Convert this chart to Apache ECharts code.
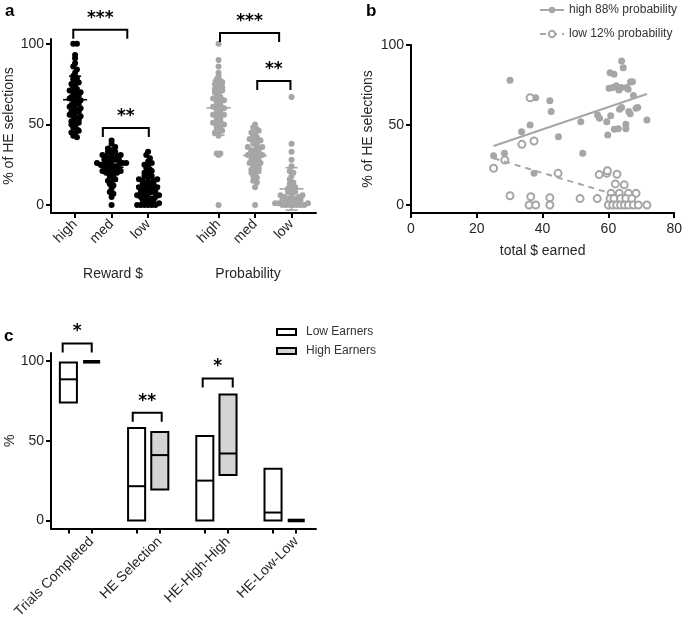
<!DOCTYPE html>
<html><head><meta charset="utf-8">
<script src="https://cdn.jsdelivr.net/npm/echarts@6/dist/echarts.min.js"></script>
<style>html,body{margin:0;padding:0;background:#fff}#c{width:685px;height:621px}</style>
</head><body><div id="c"></div>
<script>
// ---------- Panel a data ----------
const aTickLabels = ['high','med','low','high','med','low'];
const aGroupTitles = ['Reward $','Probability'];
const rewardHigh = [100,100,93,91,88,86,84,82,80,79,78,77,76,75,74,73,72,71,70,70,69,68,67,67,66,65,65,64,63,62,62,61,60,60,59,58,58,57,56,55,55,54,53,52,52,51,50,49,48,47,46,45,44,43,42];
const rewardMed = [40,38,36,35,34,33,33,32,31,31,30,30,29,29,28,28,28,27,27,26,26,26,25,25,25,24,24,24,23,23,22,22,21,21,20,20,19,19,18,17,16,15,14,13,12,10,8,7,5,0];
const rewardLow = [33,31,29,27,26,25,24,23,22,21,20,19,18,18,17,16,16,15,15,14,14,13,13,12,12,11,11,10,10,9,9,8,8,8,7,7,6,6,5,5,4,4,4,3,3,2,2,1,0,0,0,0,0,0];
const probHigh = [100,90,86,82,80,78,77,76,75,74,73,72,72,71,70,69,68,67,66,65,65,64,63,62,61,60,60,59,58,57,56,56,55,54,53,52,51,50,50,49,48,47,46,45,44,43,32,32,31,0];
const probMed = [50,48,47,46,45,44,43,42,41,40,40,39,38,37,36,36,35,34,34,33,33,32,31,31,30,30,29,28,28,27,26,26,25,24,23,22,22,21,20,19,18,17,15,14,11,0];
const probLow = [67,38,33,28,24,21,20,18,16,14,13,12,11,10,9,8,8,7,6,6,5,5,4,4,4,3,3,3,2,2,2,1,1,1,0,0,0,0,0,0,0];
const aSigLabels = ['***','**','***','**'];
const aSigX1 = [-0.05,0.76,3.97,4.99];
const aSigX2 = [1.43,2.02,5.59,5.9];
const aSigY = [108.7,47.8,106.8,77];

// ---------- Panel b data ----------
const bLegendNames = ['high 88% probability','low 12% probability'];
const highProbEarned = [25.1,28.4,30.1,33.6,36.2,37.4,37.9,42.2,42.6,44.8,51.6,52.2,56.7,57.3,59.5,59.8,60.5,61.7,60.7,64,64.5,60.2,61.4,62.4,63.2,63.9,65.5,66.7,67.3,66,67.6,61.8,63,65.3,65.3,63.4,64,66.2,66.6,68.4,68.9,71.7];
const highProbPct = [30.8,32.3,78,45.8,50,19.8,67,65.2,58.4,42.7,52.1,32.3,56.2,54.2,52,43.7,82.7,81.7,55.8,90,85.8,73,73.5,74.6,71.9,73.5,73.5,76.9,77,72.3,68.4,47.4,47.6,47.6,50.5,59.8,61,58.4,57,60.4,61,53.1];
const lowProbEarned = [25.1,28.5,30.1,33.7,36.2,36.4,35.9,37.9,37.4,42.2,42.2,44.7,51.4,56.6,57.2,59.5,59.7,62.6,62.1,64.8,60.8,63.3,66.1,68.4,60.5,61.7,63.7,65.3,67.1,60,61.3,62.5,63.7,64.9,66.1,67.6,69.1,71.7];
const lowProbPct = [23,28.1,5.8,37.9,67,5.2,0,0,40,4.6,0,19.8,4,4,19,19.8,21.4,19.2,13.2,12.6,7.3,7.3,7.3,7.3,4,4,4,4,4,0,0,0,0,0,0,0,0,0];
const highFitX = [25.1,71.7], highFitY = [36.9,69.4];
const lowFitX = [25.1,60], lowFitY = [29.2,7.7];

// ---------- Panel c data ----------
const cCategories = ['Trials Completed','HE Selection','HE-High-High','HE-Low-Low'];
const cLegendNames = ['Low Earners','High Earners'];
const lowMin = [74,0,0,0], lowMedian = [88.5,21.5,25,5], lowMax = [99,58,53,32.5];
const highMin = [99.5,19.5,28.5,0], highMedian = [99.5,41,42,0], highMax = [99.5,55.5,79,0];
const cSigLabels = ['*','**','*'];
const cSigX1 = [-0.254,0.773,1.799];
const cSigX2 = [0.172,1.198,2.239];
const cSigY = [111,67.6,89];

// ---------- layout / helpers ----------
const FONT = 'Liberation Sans, Arial, Helvetica, sans-serif';
const TXT = '#262626';
const GREY = '#a6a6a6';
const aPos = [0,1,2,3.93,4.93,5.93];
const cOff = 0.17;

function swarm(vals, center, bin, step){
  const s = vals.slice().sort((a,b)=>a-b);
  const bins = new Map();
  s.forEach(v=>{const k=Math.round(v/bin); if(!bins.has(k)) bins.set(k,[]); bins.get(k).push(v);});
  const out=[];
  bins.forEach(arr=>{const n=arr.length; arr.forEach((v,i)=>{
    const j = (i%2===0? 1:-1)*Math.ceil(i/2);
    const off = n%2===1 ? j : (i%2===0 ? (i/2+0.5) : -(Math.ceil(i/2)-0.5));
    out.push([center+off*step, v]);});});
  return out;
}
function meanSd(v){const m=v.reduce((a,b)=>a+b,0)/v.length; const s=Math.sqrt(v.reduce((a,b)=>a+(b-m)*(b-m),0)/(v.length-1)); return [m,s];}
const aGroups = [rewardHigh,rewardMed,rewardLow,probHigh,probMed,probLow];
const step = 0.1, bin = 2.5;
const blackPts = [], greyPts = [];
aGroups.forEach((g,i)=>{ (i<3?blackPts:greyPts).push(...swarm(g,aPos[i],bin,step)); });
const statData = aGroups.map((g,i)=>{const ms=meanSd(g); return [aPos[i], ms[0], ms[1], i<3?0:1];});

function nearestLabel(v, pos, labels){ for(let i=0;i<pos.length;i++){ if(Math.abs(pos[i]-v)<1e-3) return labels[i]; } return ''; }

function bracketRender(labels){
  return function(params, api){
    const x1=api.value(0), x2=api.value(1), y=api.value(2);
    const pL=api.coord([x1,y]), pR=api.coord([x2,y]);
    const d=9;
    return {type:'group', children:[
      {type:'polyline', shape:{points:[[pL[0],pL[1]+d],[pL[0],pL[1]],[pR[0],pR[1]],[pR[0],pR[1]+d]]}, style:{stroke:'#000', lineWidth:2, fill:null}},
      {type:'text', x:(pL[0]+pR[0])/2, y:pL[1]-3, style:{text:labels[params.dataIndex], align:'center', verticalAlign:'bottom', font:'bold 17px DejaVu Sans', fill:'#000'}}
    ]};
  };
}
function statRender(params, api){
  const x=api.value(0), m=api.value(1), s=api.value(2), c=api.value(3)?GREY:'#000';
  const pm=api.coord([x,m]), pt=api.coord([x,m+s]), pb=api.coord([x,m-s]);
  const st={stroke:c, lineWidth:1.6};
  return {type:'group', children:[
    {type:'line', shape:{x1:pm[0]-12,y1:pm[1],x2:pm[0]+12,y2:pm[1]}, style:st},
    {type:'line', shape:{x1:pt[0]-6,y1:pt[1],x2:pt[0]+6,y2:pt[1]}, style:st},
    {type:'line', shape:{x1:pb[0]-6,y1:pb[1],x2:pb[0]+6,y2:pb[1]}, style:st},
    {type:'line', shape:{x1:pt[0],y1:pt[1],x2:pb[0],y2:pb[1]}, style:st}
  ]};
}
function barRender(fill){
  return function(params, api){
    const x=api.value(0), lo=api.value(1), hi=api.value(2), md=api.value(3);
    const w=api.size([0.25,0])[0];
    const pHi=api.coord([x,hi]), pLo=api.coord([x,lo]), pMd=api.coord([x,md]);
    if (pLo[1]-pHi[1] < 1.5) return {type:'rect', shape:{x:pHi[0]-w/2, y:pHi[1]-1.8, width:w, height:3.6}, style:{fill:'#000'}};
    return {type:'group', children:[
      {type:'rect', shape:{x:pHi[0]-w/2, y:pHi[1], width:w, height:pLo[1]-pHi[1]}, style:{fill:fill, stroke:'#000', lineWidth:2}},
      {type:'line', shape:{x1:pMd[0]-w/2, y1:pMd[1], x2:pMd[0]+w/2, y2:pMd[1]}, style:{stroke:'#000', lineWidth:2}}
    ]};
  };
}

const axLine = {show:true, onZero:false, lineStyle:{color:'#000', width:2}};
const tickStyle = {color:'#000', width:2};
const lbl = {fontSize:14, color:TXT, fontFamily:FONT};

const chart = echarts.init(document.getElementById('c'), null, {renderer:'canvas'});
chart.setOption({
  animation:false,
  backgroundColor:'#fff',
  textStyle:{fontFamily:FONT},
  grid:[
    {left:51, top:39, width:265, height:174},
    {left:411, top:45, width:264, height:168},
    {left:51, top:353, width:265, height:176}
  ],
  xAxis:[
    {gridIndex:0, type:'value', min:-0.66, max:6.6, axisLine:axLine,
     axisTick:{show:true, length:5, lineStyle:tickStyle, customValues:aPos},
     axisLabel:Object.assign({show:true, customValues:aPos, rotate:45, margin:9, formatter:v=>nearestLabel(v,aPos,aTickLabels)}, lbl),
     splitLine:{show:false}},
    {gridIndex:1, type:'value', min:0, max:80, interval:20, axisLine:axLine,
     axisTick:{show:true, length:5, lineStyle:tickStyle},
     axisLabel:Object.assign({show:true, margin:9}, lbl),
     splitLine:{show:false},
     name:'total $ earned', nameLocation:'middle', nameGap:31, nameTextStyle:lbl},
    {gridIndex:2, type:'value', min:-0.425, max:3.46, axisLine:axLine,
     axisTick:{show:true, length:5, lineStyle:tickStyle, customValues:[-cOff,cOff,1-cOff,1+cOff,2-cOff,2+cOff,3-cOff,3+cOff]},
     axisLabel:Object.assign({show:true, customValues:[cOff,1+cOff,2+cOff,3+cOff], rotate:45, margin:11,
       formatter:v=>nearestLabel(v,[cOff,1+cOff,2+cOff,3+cOff],cCategories)}, lbl),
     splitLine:{show:false}}
  ],
  yAxis:[
    {gridIndex:0, type:'value', min:-5, max:103, axisLine:axLine,
     axisTick:{show:true, length:5, lineStyle:tickStyle, customValues:[0,50,100]},
     axisLabel:Object.assign({show:true, customValues:[0,50,100], margin:7}, lbl),
     splitLine:{show:false},
     name:'% of HE selections', nameLocation:'middle', nameGap:35, nameTextStyle:Object.assign({}, lbl)},
    {gridIndex:1, type:'value', min:-5, max:100, axisLine:axLine,
     axisTick:{show:true, length:5, lineStyle:tickStyle, customValues:[0,50,100]},
     axisLabel:Object.assign({show:true, customValues:[0,50,100], margin:7}, lbl),
     splitLine:{show:false},
     name:'% of HE selections', nameLocation:'middle', nameGap:36, nameTextStyle:Object.assign({}, lbl)},
    {gridIndex:2, type:'value', min:-5, max:105, axisLine:axLine,
     axisTick:{show:true, length:5, lineStyle:tickStyle, customValues:[0,50,100]},
     axisLabel:Object.assign({show:true, customValues:[0,50,100], margin:7}, lbl),
     splitLine:{show:false},
     name:'%', nameLocation:'middle', nameGap:31, nameTextStyle:Object.assign({}, lbl)}
  ],
  legend:[
    {data:bLegendNames, orient:'vertical', left:534, top:-1, itemWidth:24, itemHeight:8, itemGap:12, selectedMode:false,
     textStyle:{fontSize:12, color:'#333', fontFamily:FONT}},
    {data:cLegendNames, orient:'vertical', left:271, top:321, icon:'rect', itemWidth:19, itemHeight:6, itemGap:7, selectedMode:false,
     itemStyle:{borderColor:'#000', borderWidth:2},
     textStyle:{fontSize:12, color:'#333', fontFamily:FONT, padding:[0,0,0,5]}}
  ],
  graphic:[
    {type:'text', left:5, top:3, style:{text:'a', font:'bold 17px '+FONT, fill:'#000'}},
    {type:'text', left:366, top:3, style:{text:'b', font:'bold 17px '+FONT, fill:'#000'}},
    {type:'text', left:4, top:328, style:{text:'c', font:'bold 17px '+FONT, fill:'#000'}},
    {type:'text', x:113, y:274, style:{text:aGroupTitles[0], align:'center', verticalAlign:'middle', font:'14px '+FONT, fill:TXT}},
    {type:'text', x:248, y:274, style:{text:aGroupTitles[1], align:'center', verticalAlign:'middle', font:'14px '+FONT, fill:TXT}}
  ],
  series:[
    {type:'scatter', xAxisIndex:0, yAxisIndex:0, data:blackPts, symbolSize:6, itemStyle:{color:'#000', opacity:1}, z:2},
    {type:'scatter', xAxisIndex:0, yAxisIndex:0, data:greyPts, symbolSize:6, itemStyle:{color:GREY, opacity:1}, z:2},
    {type:'custom', xAxisIndex:0, yAxisIndex:0, data:statData, renderItem:statRender, encode:{x:0,y:1}, z:3},
    {type:'custom', xAxisIndex:0, yAxisIndex:0, data:aSigX1.map((x,i)=>[x,aSigX2[i],aSigY[i]]), renderItem:bracketRender(aSigLabels), encode:{x:[0,1],y:2}, clip:false, z:4},
    {name:bLegendNames[0], type:'line', xAxisIndex:1, yAxisIndex:1, data:highFitX.map((x,i)=>[x,highFitY[i]]),
     showSymbol:false, symbol:'circle', symbolSize:8, lineStyle:{color:GREY, width:2}, itemStyle:{color:GREY}, z:4},
    {name:bLegendNames[1], type:'line', xAxisIndex:1, yAxisIndex:1, data:lowFitX.map((x,i)=>[x,lowFitY[i]]),
     showSymbol:false, symbol:'emptyCircle', symbolSize:8, lineStyle:{color:GREY, width:2, type:[6,5]}, itemStyle:{color:GREY, borderWidth:2}, z:4},
    {type:'scatter', xAxisIndex:1, yAxisIndex:1, data:highProbEarned.map((x,i)=>[x,highProbPct[i]]), symbol:'circle', symbolSize:7, itemStyle:{color:GREY, opacity:1}, z:2},
    {type:'scatter', xAxisIndex:1, yAxisIndex:1, data:lowProbEarned.map((x,i)=>[x,lowProbPct[i]]), symbol:'circle', symbolSize:7, itemStyle:{color:'#fff', borderColor:GREY, borderWidth:2, opacity:1}, z:2},
    {name:cLegendNames[0], type:'custom', xAxisIndex:2, yAxisIndex:2, itemStyle:{color:'#fff'},
     data:cCategories.map((c,i)=>[i-cOff,lowMin[i],lowMax[i],lowMedian[i]]), renderItem:barRender('#fff'), encode:{x:0,y:[1,2]}, z:2},
    {name:cLegendNames[1], type:'custom', xAxisIndex:2, yAxisIndex:2, itemStyle:{color:'#d4d4d4'},
     data:cCategories.map((c,i)=>[i+cOff,highMin[i],highMax[i],highMedian[i]]), renderItem:barRender('#d4d4d4'), encode:{x:0,y:[1,2]}, z:2},
    {type:'custom', xAxisIndex:2, yAxisIndex:2, data:cSigX1.map((x,i)=>[x,cSigX2[i],cSigY[i]]), renderItem:bracketRender(cSigLabels), encode:{x:[0,1],y:2}, clip:false, z:4}
  ]
});
</script></body></html>
